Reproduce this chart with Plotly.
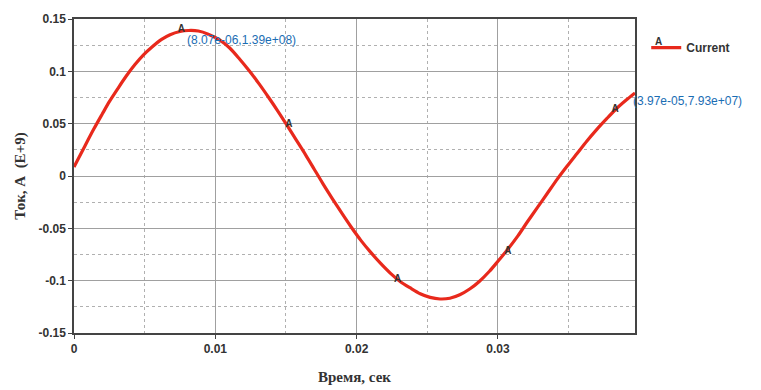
import plotly.graph_objects as go

# time (s) and current (E+9 A)
t_vals = [0.0, 0.0007, 0.0014, 0.0020, 0.0025, 0.0031, 0.0037, 0.0043, 0.0049,
          0.0055, 0.0062, 0.0068, 0.0075, 0.0081, 0.0088, 0.0095, 0.0103, 0.0110,
          0.0117, 0.0124, 0.0131, 0.0138, 0.0144, 0.0150, 0.0157, 0.0164, 0.0170,
          0.0176, 0.0183, 0.0190, 0.0196, 0.0203, 0.0210, 0.0217, 0.0224, 0.0231,
          0.0238, 0.0245, 0.0252, 0.0259, 0.0266, 0.0273, 0.0280, 0.0287, 0.0294,
          0.0300, 0.0307, 0.0314, 0.0321, 0.0328, 0.0335, 0.0342, 0.0349, 0.0356,
          0.0363, 0.0370, 0.0377, 0.0384, 0.0391, 0.0397]
i_vals = [0.0085, 0.0268, 0.0448, 0.0592, 0.0710, 0.0835, 0.0955, 0.1062, 0.1155,
          0.1230, 0.1305, 0.1350, 0.1380, 0.1390, 0.1385, 0.1355, 0.1300, 0.1225,
          0.1120, 0.1005, 0.0880, 0.0745, 0.0625, 0.0500, 0.0350, 0.0200, 0.0065,
          -0.0070, -0.0220, -0.0365, -0.0485, -0.0615, -0.0730, -0.0835, -0.0930, -0.1010,
          -0.1070, -0.1125, -0.1160, -0.1175, -0.1168, -0.1135, -0.1080, -0.1005, -0.0910,
          -0.0815, -0.0700, -0.0575, -0.0435, -0.0300, -0.0165, -0.0030, 0.0095, 0.0215,
          0.0335, 0.0446, 0.0548, 0.0645, 0.0728, 0.0793]

# "A" point markers along the curve
mark_t = [0.0076, 0.0152, 0.0229, 0.0307, 0.0383]
mark_i = [0.1400, 0.0490, -0.0985, -0.0720, 0.0640]

x_tickvals = [0, 0.01, 0.02, 0.03]
x_ticktext = ["0", "0.01", "0.02", "0.03"]
y_tickvals = [0.15, 0.1, 0.05, 0, -0.05, -0.1, -0.15]
y_ticktext = ["0.15", "0.1", "0.05", "0", "-0.05", "-0.1", "-0.15"]

peak_label = "(8.07e-06,1.39e+08)"
end_label = "(3.97e-05,7.93e+07)"

fig = go.Figure()
fig.add_trace(go.Scatter(
    x=t_vals, y=i_vals, mode="lines", name="Current",
    line=dict(color="#e8291c", width=3.2, shape="spline", smoothing=0.8),
    showlegend=True,
))
fig.add_trace(go.Scatter(
    x=mark_t, y=mark_i, mode="text", text=["A"] * len(mark_t),
    textposition="middle center",
    textfont=dict(family="Liberation Sans", size=10, color="#333333", weight="bold"),
    showlegend=False, hoverinfo="skip",
))

fig.add_annotation(x=t_vals[13], y=0.1297, xref="x", yref="y", text=peak_label,
                   showarrow=False, xanchor="left", yanchor="middle", xshift=-3,
                   font=dict(family="Liberation Sans", size=12, color="#1a6db3"))
fig.add_annotation(x=t_vals[-1], y=0.0713, xref="x", yref="y", text=end_label,
                   showarrow=False, xanchor="left", yanchor="middle", xshift=-4,
                   font=dict(family="Liberation Sans", size=12, color="#1a6db3"))
fig.add_annotation(x=1.041, y=0.927, xref="paper", yref="paper", text="A",
                   showarrow=False, xanchor="center", yanchor="middle",
                   font=dict(family="Liberation Sans", size=10, color="#333333", weight="bold"))

axis_common = dict(
    showline=True, linecolor="#444444", linewidth=1.5, mirror=True,
    showgrid=True, gridcolor="#a0a0a0", gridwidth=1,
    ticks="outside", ticklen=4, tickcolor="#444444",
    tickfont=dict(family="Liberation Sans", size=12, color="#333333", weight="bold"),
    zeroline=False,
)

fig.update_xaxes(
    range=[0, 0.0397], tickvals=x_tickvals, ticktext=x_ticktext,
    minor=dict(dtick=0.005, tick0=0.005, showgrid=True, griddash="dot",
               gridcolor="#b0b0b0", gridwidth=1),
    title=dict(text="Время, сек", standoff=16,
               font=dict(family="Liberation Serif", size=15, color="#333333", weight="bold")),
    **axis_common,
)
fig.update_yaxes(
    range=[-0.15, 0.15], tickvals=y_tickvals, ticktext=y_ticktext,
    minor=dict(dtick=0.05, tick0=0.025, showgrid=True, griddash="dot",
               gridcolor="#b0b0b0", gridwidth=1),
    title=dict(text="Ток, А  (E+9)", standoff=9,
               font=dict(family="Liberation Serif", size=15, color="#333333", weight="bold")),
    **axis_common,
)

fig.update_layout(
    width=761, height=390,
    margin=dict(l=74, r=126, t=19, b=57, autoexpand=False),
    paper_bgcolor="white", plot_bgcolor="white",
    legend=dict(x=1.02, y=0.955, xanchor="left", yanchor="top",
                font=dict(family="Liberation Sans", size=12, color="#333333", weight="bold"),
                bgcolor="rgba(0,0,0,0)", itemwidth=30),
)

fig.write_html("out.html")
